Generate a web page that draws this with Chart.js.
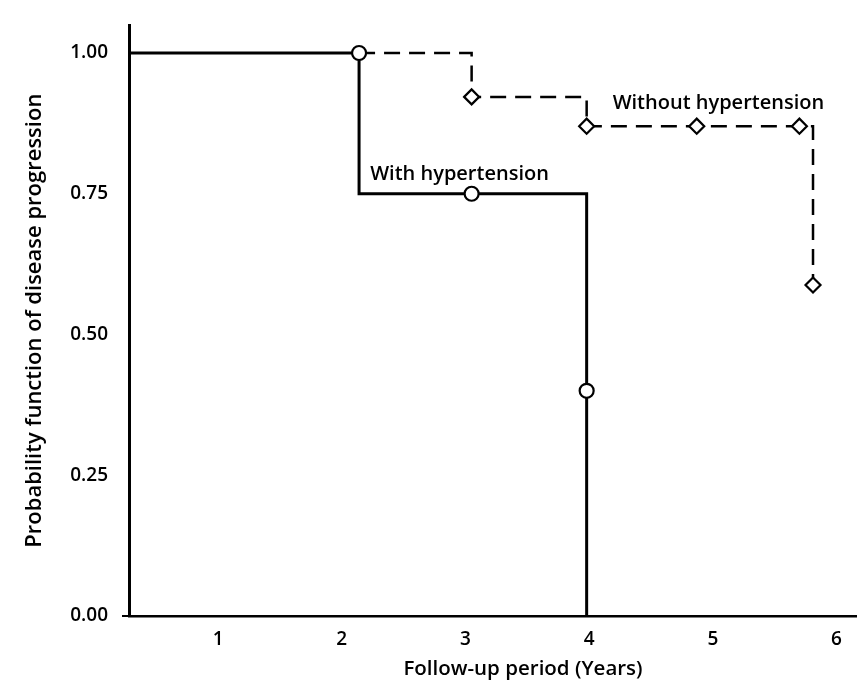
<!DOCTYPE html>
<html>
<head>
<meta charset="utf-8">
<script src="https://cdn.jsdelivr.net/npm/chart.js@4.4.1/dist/chart.umd.min.js"></script>
<style>
  html, body { margin: 0; padding: 0; background: #fff; }
  #wrap { width: 866px; height: 690px; position: relative; }
</style>
</head>
<body>
<div id="wrap"><canvas id="chart"></canvas></div>
<script>
// Kaplan-Meier style curves
const withTimes = [0.28, 2.14, 3.98, 3.98]
const withProb = [1.0, 0.75, 0.4, 0.0]
const withMarkTimes = [2.14, 3.05, 3.98]
const withMarkProb = [1.0, 0.75, 0.4]

const withoutTimes = [2.14, 3.05, 3.98, 5.81]
const withoutProb = [1.0, 0.922, 0.87, 0.588]
const withoutMarkTimes = [3.05, 3.98, 4.87, 5.7, 5.81]
const withoutMarkProb = [0.922, 0.87, 0.87, 0.87, 0.588]

const xTicks = [1, 2, 3, 4, 5, 6]
const yTicks = [0, 0.25, 0.5, 0.75, 1.0]

const curveLabels = ["With hypertension", "Without hypertension"]
const curveLabelX = [2.23, 4.19]
const curveLabelY = [0.785, 0.91]

const xTitle = "Follow-up period (Years)"
const yTitle = "Probability function of disease progression"

const font = '"Open Sans", "Noto Sans", sans-serif'

const toPoints = (xs, ys) => xs.map((x, i) => ({ x: x, y: ys[i] }))

const textPlugin = {
  id: "curveText",
  afterDraw(chart) {
    const { ctx, scales } = chart
    ctx.save()
    ctx.fillStyle = "#000"
    ctx.font = "600 20px " + font
    ctx.textBaseline = "middle"
    ctx.textAlign = "left"
    curveLabels.forEach((label, i) => {
      ctx.fillText(label, scales.x.getPixelForValue(curveLabelX[i]), scales.y.getPixelForValue(curveLabelY[i]))
    })
    ctx.font = "600 20.5px " + font
    ctx.textAlign = "center"
    ctx.fillText(xTitle, 523, 669)
    ctx.restore()
  },
}

new Chart(document.getElementById("chart"), {
  type: "scatter",
  data: {
    datasets: [
      {
        data: toPoints(withMarkTimes, withMarkProb),
        pointStyle: "circle",
        pointRadius: 7,
        pointBackgroundColor: "#fff",
        pointBorderColor: "#000",
        pointBorderWidth: 2.2,
        order: 0,
        clip: false,
      },
      {
        data: toPoints(withoutMarkTimes, withoutMarkProb),
        pointStyle: "rectRot",
        pointRadius: 7.5,
        pointBackgroundColor: "#fff",
        pointBorderColor: "#000",
        pointBorderWidth: 2.2,
        order: 0,
        clip: false,
      },
      {
        data: toPoints(withTimes, withProb),
        showLine: true,
        stepped: "before",
        borderColor: "#000",
        borderWidth: 3,
        pointRadius: 0,
        order: 1,
        clip: false,
      },
      {
        data: toPoints(withoutTimes, withoutProb),
        showLine: true,
        stepped: "before",
        borderColor: "#000",
        borderWidth: 2.5,
        borderDash: [16, 9],
        pointRadius: 0,
        order: 1,
        clip: false,
      },
    ],
  },
  options: {
    responsive: true,
    maintainAspectRatio: false,
    animation: false,
    layout: { padding: { top: 8, right: 0, bottom: 0, left: 0 } },
    plugins: {
      legend: { display: false },
      tooltip: { enabled: false },
    },
    scales: {
      x: {
        type: "linear",
        min: 0.28,
        max: 6.16,
        afterBuildTicks: (scale) => {
          scale.ticks = xTicks.map((v) => ({ value: v }))
        },
        afterFit: (scale) => {
          scale.height = 74
        },
        grid: { display: false, drawTicks: false },
        border: { display: true, color: "#000", width: 2.5 },
        ticks: {
          color: "#000",
          padding: 12,
          maxRotation: 0,
          font: { family: font, size: 19, weight: "600" },
        },
      },
      y: {
        min: 0,
        max: 1.049,
        afterBuildTicks: (scale) => {
          scale.ticks = yTicks.map((v) => ({ value: v }))
        },
        afterFit: (scale) => {
          scale.width = 129
        },
        grid: {
          drawOnChartArea: false,
          drawTicks: true,
          tickLength: 7,
          color: (ctx) => (ctx.tick && ctx.tick.value === 0 ? "#000" : "rgba(0,0,0,0)"),
          lineWidth: 2,
        },
        border: { display: true, color: "#000", width: 3 },
        ticks: {
          color: "#000",
          padding: 14,
          font: { family: font, size: 19, weight: "600" },
          callback: (v) => Number(v).toFixed(2),
        },
        title: {
          display: true,
          text: yTitle,
          color: "#000",
          padding: { top: 22, bottom: 0 },
          font: { family: font, size: 22, weight: "600" },
        },
      },
    },
  },
  plugins: [textPlugin],
})
</script>
</body>
</html>
